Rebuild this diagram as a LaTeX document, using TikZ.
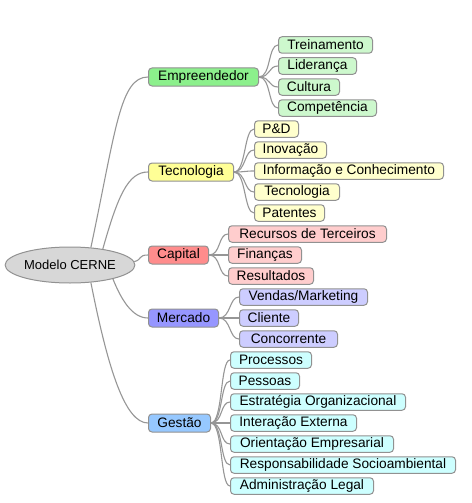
\documentclass[tikz,border=0pt]{standalone}
\usepackage{fontspec}
\setmainfont{Liberation Sans}
\usetikzlibrary{shapes.geometric}
\definecolor{bordergray}{RGB}{145,145,145}
\definecolor{linegray}{RGB}{150,150,150}
\definecolor{rootfill}{RGB}{215,215,215}
\definecolor{empM}{RGB}{140,240,140}
\definecolor{empC}{RGB}{205,248,205}
\definecolor{tecM}{RGB}{255,255,150}
\definecolor{tecC}{RGB}{255,255,205}
\definecolor{capM}{RGB}{255,140,140}
\definecolor{capC}{RGB}{255,205,205}
\definecolor{merM}{RGB}{150,150,255}
\definecolor{merC}{RGB}{205,205,255}
\definecolor{gesM}{RGB}{150,200,255}
\definecolor{gesC}{RGB}{205,255,255}
\tikzset{
  box/.style={draw=bordergray, rounded corners=3.5pt, line width=1pt, inner sep=0pt,
    anchor=west, text=black, font=\fontsize{13.7}{16}\selectfont},
  mainbox/.style={box, minimum height=18pt},
  childbox/.style={box, minimum height=16.5pt},
  conn/.style={draw=linegray, line width=1.1pt},
}
\begin{document}
\begin{tikzpicture}[x=1pt,y=-1pt]
\useasboundingbox (0,0) rectangle (471,503);
% root
\node[ellipse, draw=bordergray, fill=rootfill, line width=1pt, minimum width=116pt, minimum height=36pt, inner sep=0pt,
  font=\fontsize{13}{15}\selectfont, text=black] (root) at (70,265) {Modelo CERNE};
% main nodes
\node[mainbox, fill=empM, minimum width=110pt] (emp) at (148,77) {Empreendedor};
\node[mainbox, fill=tecM, minimum width=85pt] (tec) at (148,172) {Tecnologia};
\node[mainbox, fill=capM, minimum width=60pt] (cap) at (148,255) {Capital};
\node[mainbox, fill=merM, minimum width=70pt] (mer) at (148,318) {Mercado};
\node[mainbox, fill=gesM, minimum width=62pt] (ges) at (148,423) {Gestão};
% Empreendedor children
\node[childbox, fill=empC, minimum width=94pt] (e1) at (278,45) {Treinamento};
\node[childbox, fill=empC, minimum width=78pt] (e2) at (278,66) {Liderança};
\node[childbox, fill=empC, minimum width=61pt] (e3) at (278,87) {Cultura};
\node[childbox, fill=empC, minimum width=98pt] (e4) at (278,108) {Competência};
% Tecnologia children
\node[childbox, fill=tecC, minimum width=44pt] (t1) at (254,129) {P\&D};
\node[childbox, fill=tecC, minimum width=72pt] (t2) at (254,150) {Inovação};
\node[childbox, fill=tecC, minimum width=189pt] (t3) at (254,171) {Informação e Conhecimento};
\node[childbox, fill=tecC, minimum width=85pt] (t4) at (254,192) {Tecnologia};
\node[childbox, fill=tecC, minimum width=70pt] (t5) at (254,213) {Patentes};
% Capital children
\node[childbox, fill=capC, minimum width=158pt] (c1) at (228,234) {Recursos de Terceiros};
\node[childbox, fill=capC, minimum width=73pt] (c2) at (228,255) {Finanças};
\node[childbox, fill=capC, minimum width=85pt] (c3) at (228,276) {Resultados};
% Mercado children
\node[childbox, fill=merC, minimum width=128pt] (m1) at (239,297) {Vendas/Marketing};
\node[childbox, fill=merC, minimum width=59pt] (m2) at (239,318) {Cliente};
\node[childbox, fill=merC, minimum width=98pt] (m3) at (239,339) {Concorrente};
% Gestao children
\node[childbox, fill=gesC, minimum width=81pt] (g1) at (230,360) {Processos};
\node[childbox, fill=gesC, minimum width=69pt] (g2) at (230,381) {Pessoas};
\node[childbox, fill=gesC, minimum width=175pt] (g3) at (230,402) {Estratégia Organizacional};
\node[childbox, fill=gesC, minimum width=126pt] (g4) at (230,423) {Interação Externa};
\node[childbox, fill=gesC, minimum width=163pt] (g5) at (230,444) {Orientação Empresarial};
\node[childbox, fill=gesC, minimum width=225pt] (g6) at (230,465) {Responsabilidade Socioambiental};
\node[childbox, fill=gesC, minimum width=143pt] (g7) at (230,486) {Administração Legal};
% root connectors
\draw[conn] (root.40) .. controls +(25,-118) and +(-28,0) .. (emp.west);
\draw[conn] (root.26) .. controls +(15,-53) and +(-20,0) .. (tec.west);
\draw[conn] (root.3) .. controls +(8,-2) and +(-10,0) .. (cap.west);
\draw[conn] (root.-18) .. controls +(8,20) and +(-16,0) .. (mer.west);
\draw[conn] (root.-40) .. controls +(17,86) and +(-23,0) .. (ges.west);
% child connectors
\foreach \c in {e1,e2,e3,e4}{\draw[conn] (emp.east) .. controls +(12,0) and +(-10,0) .. (\c.west);}
\foreach \c in {t1,t2,t3,t4,t5}{\draw[conn] (tec.east) .. controls +(12,0) and +(-10,0) .. (\c.west);}
\foreach \c in {c1,c2,c3}{\draw[conn] (cap.east) .. controls +(12,0) and +(-10,0) .. (\c.west);}
\foreach \c in {m1,m2,m3}{\draw[conn] (mer.east) .. controls +(12,0) and +(-10,0) .. (\c.west);}
\foreach \c in {g1,g2,g3,g4,g5,g6,g7}{\draw[conn] (ges.east) .. controls +(12,0) and +(-10,0) .. (\c.west);}
\end{tikzpicture}
\end{document}
